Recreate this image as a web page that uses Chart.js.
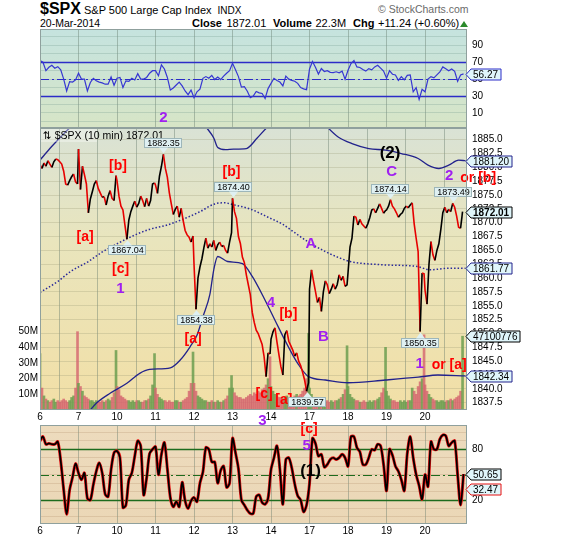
<!DOCTYPE html>
<html>
<head>
<meta charset="utf-8">
<title>$SPX 10 min</title>
<script src="https://cdn.jsdelivr.net/npm/chart.js@4.4.1/dist/chart.umd.min.js"></script>
<style>
  html, body { margin: 0; padding: 0; background: #fff; }
  body { width: 570px; height: 540px; position: relative; overflow: hidden;
         font-family: "Liberation Sans", Arial, sans-serif; color: #000; }
  .t { position: absolute; white-space: nowrap; line-height: 1; }
  canvas { position: absolute; left: 0; }
</style>
</head>
<body>
<div class="t" style="left:40px;top:1px;"><span style="font-size:16px;font-weight:bold;">$SPX</span><span style="font-size:11px;"> S&amp;P 500 Large Cap Index</span><span style="font-size:10px;margin-left:6px;">INDX</span></div>
<div class="t" style="left:378px;top:4px;font-size:10.5px;color:#6a6a6a;">&copy; StockCharts.com</div>
<div class="t" style="left:40px;top:18px;font-size:10.5px;">20-Mar-2014</div>
<div class="t" style="left:192px;top:18px;font-size:11px;font-weight:bold;">Close</div>
<div class="t" id="hdrClose" style="left:226.5px;top:18px;font-size:11px;"></div>
<div class="t" style="left:273px;top:18px;font-size:11px;font-weight:bold;">Volume</div>
<div class="t" style="left:315.5px;top:18px;font-size:11px;">22.3M</div>
<div class="t" style="left:353px;top:18px;font-size:11px;font-weight:bold;">Chg</div>
<div class="t" id="hdrChg" style="left:378px;top:18px;font-size:11px;"></div>
<div style="position:absolute;left:460px;top:21px;width:0;height:0;border-left:4px solid transparent;border-right:4px solid transparent;border-bottom:6px solid #2b8a2b;"></div>

<canvas id="rsiPanel" width="570" height="99" style="top:29px;"></canvas>
<canvas id="pricePanel" width="570" height="282" style="top:128px;"></canvas>
<canvas id="stochPanel" width="570" height="130" style="top:410px;"></canvas>

<script>
// ---------- session labels ----------
const dayLabels = ['6', '7', '10', '11', '12', '13', '14', '17', '18', '19', '20'];
const BARS_PER_DAY = 39;   // 10-minute bars per session
const CLOSE_STEP = 2;      // closes / volumes listed every 2nd bar
const IND_STEP = 3;        // indicator values listed every 3rd bar

// ---------- closes (every 2nd 10-min bar) ----------
const closeMar06 = [1880.5, 1879.8, 1880.8, 1880.2, 1881.2, 1880.6, 1880.0, 1881.0, 1881.5, 1881.4, 1881.0, 1880.6, 1879.3, 1877.0, 1876.8, 1877.6, 1878.3, 1878.8, 1877.4, 1877.0];
const closeMar07 = [1883.3, 1876.0, 1880.2, 1878.7, 1877.0, 1871.8, 1874.3, 1875.6, 1877.0, 1877.6, 1876.2, 1875.4, 1874.6, 1874.7, 1873.2, 1874.8, 1875.8, 1874.4, 1874.0, 1878.5];
const closeMar10 = [1877.6, 1874.8, 1873.0, 1872.3, 1869.6, 1867.04, 1870.5, 1872.0, 1873.0, 1873.9, 1872.8, 1873.5, 1874.8, 1874.0, 1872.9, 1874.4, 1873.0, 1874.0, 1877.0, 1877.2];
const closeMar11 = [1876.8, 1875.3, 1878.4, 1880.2, 1882.35, 1879.8, 1878.2, 1875.4, 1873.4, 1871.5, 1872.4, 1873.0, 1871.0, 1872.6, 1870.4, 1868.6, 1867.8, 1867.4, 1866.5, 1867.6];
const closeMar12 = [1862.5, 1854.38, 1860.0, 1862.0, 1863.5, 1865.5, 1867.2, 1865.4, 1866.2, 1865.6, 1866.8, 1865.0, 1866.0, 1866.5, 1865.7, 1865.9, 1865.0, 1864.5, 1866.5, 1868.2];
const closeMar13 = [1874.40, 1872.0, 1870.8, 1867.5, 1866.2, 1863.8, 1862.8, 1860.6, 1858.8, 1857.0, 1853.8, 1852.0, 1850.6, 1850.0, 1849.0, 1848.0, 1845.8, 1842.2, 1846.5, 1846.3];
const closeMar14 = [1849.0, 1850.3, 1851.0, 1848.5, 1846.2, 1844.0, 1842.5, 1849.8, 1850.5, 1848.6, 1847.8, 1847.0, 1845.9, 1846.5, 1845.0, 1844.2, 1843.0, 1841.6, 1839.57, 1841.1];
const closeMar17 = [1858.0, 1861.5, 1859.5, 1857.6, 1855.6, 1856.5, 1854.0, 1857.5, 1859.5, 1858.8, 1857.2, 1858.0, 1859.0, 1858.0, 1858.8, 1860.6, 1859.6, 1860.3, 1858.5, 1858.8];
const closeMar18 = [1861.0, 1865.6, 1867.2, 1871.2, 1871.0, 1869.6, 1870.6, 1869.8, 1869.4, 1869.0, 1869.8, 1870.9, 1872.3, 1872.5, 1871.8, 1872.6, 1873.4, 1872.6, 1871.7, 1872.2];
const closeMar19 = [1872.3, 1873.0, 1874.14, 1873.0, 1872.5, 1871.8, 1871.0, 1871.5, 1871.8, 1872.6, 1873.0, 1872.7, 1873.2, 1873.6, 1869.8, 1867.2, 1864.8, 1850.35, 1860.9, 1860.77];
const closeMar20 = [1857.8, 1855.3, 1862.5, 1866.6, 1864.2, 1863.2, 1865.0, 1866.2, 1868.8, 1871.8, 1872.8, 1871.8, 1872.4, 1872.0, 1873.49, 1872.8, 1871.2, 1869.2, 1869.0, 1872.01];

// ---------- volume, millions (every 2nd 10-min bar) ----------
const volMar06 = [36, 14, 9, 7, 6, 5, 6, 7, 5, 6, 5, 6, 7, 6, 5, 6, 8, 9, 14, 50];
const volMar07 = [17, 15, 12, 9, 8, 7, 6, 6, 5, 6, 5, 5, 6, 5, 6, 7, 6, 8, 11, 38];
const volMar10 = [15, 13, 9, 8, 7, 6, 6, 5, 6, 5, 6, 6, 5, 5, 6, 6, 7, 9, 16, 36];
const volMar11 = [14, 10, 8, 7, 6, 6, 5, 6, 5, 5, 6, 6, 5, 5, 6, 7, 8, 12, 17, 37];
const volMar12 = [17, 12, 9, 8, 7, 6, 6, 5, 5, 6, 5, 5, 6, 5, 5, 6, 7, 9, 14, 22];
const volMar13 = [14, 11, 9, 8, 8, 7, 7, 8, 9, 10, 9, 11, 10, 12, 11, 13, 14, 16, 20, 34];
const volMar14 = [15, 12, 10, 9, 8, 8, 7, 8, 9, 8, 7, 8, 9, 10, 9, 10, 12, 14, 20, 49];
const volMar17 = [14, 10, 8, 7, 6, 6, 5, 6, 5, 6, 5, 6, 5, 6, 6, 7, 8, 10, 13, 41];
const volMar18 = [15, 10, 8, 7, 6, 6, 5, 5, 6, 5, 5, 6, 5, 6, 6, 7, 8, 11, 14, 40];
const volMar19 = [12, 9, 7, 6, 6, 5, 5, 6, 5, 6, 5, 6, 6, 14, 12, 10, 15, 18, 20, 48];
const volMar20 = [16, 12, 10, 8, 7, 6, 6, 5, 6, 6, 5, 6, 6, 7, 6, 7, 8, 9, 12, 47.100776];

// ---------- overlay averages (bar number, value) ----------
const avgUpperBars = [0, 10, 20, 30, 60, 110, 155, 169, 176, 180, 188, 196, 209, 220, 230, 252, 278, 292, 302, 316, 333, 350, 366, 383, 393, 404, 414, 424, 431];
const avgUpperVals = [1881.3, 1883.4, 1885.3, 1887.1, 1890.5, 1892.0, 1890.0, 1887.1, 1885.3, 1883.6, 1883.2, 1883.3, 1883.4, 1885.3, 1887.2, 1890.0, 1890.0, 1887.1, 1885.5, 1884.3, 1883.4, 1883.1, 1882.5, 1881.6, 1880.4, 1879.8, 1880.4, 1881.3, 1881.20];
const avgDottedBars = [0, 18, 31, 49, 62, 76, 89, 109, 129, 147, 162, 177, 187, 195, 214, 231, 246, 258, 272, 289, 304, 314, 348, 382, 395, 415, 431];
const avgDottedVals = [1857.4, 1859.4, 1861.2, 1863.0, 1864.6, 1866.0, 1867.2, 1868.7, 1869.6, 1870.8, 1872.0, 1873.4, 1873.6, 1873.3, 1872.4, 1871.0, 1869.7, 1868.2, 1866.5, 1864.8, 1863.6, 1863.0, 1862.4, 1862.1, 1861.5, 1861.8, 1861.77];
const avgLowerBars = [35, 51, 57, 71, 88, 101, 111, 132, 142, 152, 159, 165, 172, 176, 180, 190, 205, 215, 228, 238, 248, 261, 272, 289, 312, 350, 383, 403, 431];
const avgLowerVals = [1833.0, 1836.2, 1837.4, 1839.2, 1841.0, 1842.8, 1843.5, 1843.8, 1845.2, 1847.6, 1849.7, 1853.0, 1857.0, 1861.5, 1863.9, 1863.0, 1862.6, 1860.3, 1856.0, 1852.4, 1848.8, 1844.6, 1842.2, 1841.6, 1841.1, 1841.6, 1842.1, 1842.5, 1842.34];

// ---------- RSI (every 3rd bar) ----------
const rsiValues = [72, 70, 60, 64, 66.5, 63, 64.8, 61, 50, 36,
  47, 46.5, 49, 57, 50, 50, 36, 46, 51, 48,
  46.5, 45.5, 44, 44, 52.5, 42.7, 51, 52, 40, 48,
  47.3, 51, 49, 56.5, 50, 50, 52, 57, 60, 60,
  54, 67, 62, 52, 37, 39.5, 43, 46.5, 42, 36,
  31.6, 37, 28, 35, 38, 51, 53, 51, 54.5, 49.5,
  52.5, 49.5, 53.5, 57, 60, 68.8, 61, 53, 40.5, 41,
  35.7, 28, 30, 35.3, 33.8, 33, 27, 38.8, 45, 51,
  48.5, 46.5, 42, 53.5, 50, 48.5, 47.5, 45, 40, 38.5,
  37.5, 62, 71, 64, 56, 62.5, 59, 60, 58, 57.7,
  58.7, 57.5, 59.5, 50, 60.5, 68.5, 72, 64.5, 63.8, 61.5,
  59.5, 62.5, 61, 64.5, 66.5, 63, 59.5, 51.2, 60, 55.8,
  55, 48.5, 53, 49.2, 54.5, 55, 35, 40, 26, 38,
  35, 50, 53, 51.5, 55, 58.5, 64.5, 62.3, 60, 62,
  59.3, 47.5, 55, 56.27];

// ---------- slow stochastic %K (every 3rd bar) ----------
const stochValues = [90, 95, 86, 87, 86, 86, 89, 66, 32, 3,
  32, 47, 63, 52, 44, 52, 22, 20, 38, 54,
  64, 52, 27, 24, 56, 76, 78, 70, 11, 14,
  44, 52, 72, 90, 84, 26, 46, 75, 80, 83,
  50, 74, 88, 57, 23, 12, 18, 12, 41, 19,
  10, 19, 23, 18, 40, 53, 82, 80, 65, 65,
  40, 55, 60, 35, 40, 93, 76, 57, 20, 14,
  8, 4, 4, 24, 26, 17, 15, 22, 56, 70,
  84, 56, 15, 68, 70, 58, 39, 25, 20, 6,
  14, 40, 93, 87, 72, 74, 59, 62, 68, 70,
  68, 70, 74, 70, 60, 95, 95, 82, 77, 62,
  62, 70, 80, 79, 86, 84, 62, 31, 80, 73,
  60, 54, 44, 31, 75, 95, 70, 50, 37, 21,
  50, 36, 89, 80, 80, 92, 97, 96, 84, 88,
  90, 50, 14, 50.65];
const stochSignalLast = 32.47;

// ---------- wave count labels ----------
const priceWaveLabels = [
  { bar: 79, value: 1880.2, text: '[b]', kind: 'minor' },
  { bar: 45.6, value: 1867.4, text: '[a]', kind: 'minor' },
  { bar: 81.6, value: 1861.6, text: '[c]', kind: 'minor' },
  { bar: 81.4, value: 1858.0, text: '1', kind: 'wave' },
  { bar: 194, value: 1879.2, text: '[b]', kind: 'minor' },
  { bar: 155, value: 1848.9, text: '[a]', kind: 'minor' },
  { bar: 233.8, value: 1855.5, text: '4', kind: 'wave' },
  { bar: 251.6, value: 1853.5, text: '[b]', kind: 'minor' },
  { bar: 227, value: 1839.0, text: '[c]', kind: 'minor' },
  { bar: 247, value: 1838.0, text: '[a]', kind: 'minor' },
  { bar: 274.4, value: 1866.2, text: 'A', kind: 'wave' },
  { bar: 287, value: 1849.3, text: 'B', kind: 'wave' },
  { bar: 356.3, value: 1879.1, text: 'C', kind: 'wave' },
  { bar: 354.6, value: 1882.6, text: '(2)', kind: 'major' },
  { bar: 414.4, value: 1878.4, text: '2', kind: 'wave' },
  { bar: 443.8, value: 1878.1, text: 'or [b]', kind: 'minor' },
  { bar: 384.5, value: 1844.5, text: '1', kind: 'wave' },
  { bar: 414.4, value: 1844.3, text: 'or [a]', kind: 'minor' }
];
const rsiWaveLabels = [{ bar: 125, value: 3.7, text: '2', kind: 'wave' }];
const stochWaveLabels = [
  { bar: 225.4, value: 113.6, text: '3', kind: 'wave' },
  { bar: 272.5, value: 104.1, text: '[c]', kind: 'minor' },
  { bar: 270.2, value: 83.6, text: '5', kind: 'wave' },
  { bar: 274, value: 53.6, text: '(1)', kind: 'major' }
];

// session extremes flagged on the price panel: session index, sample index
const priceFlags = [
  { day: 3, k: 4, side: 'high' },
  { day: 5, k: 0, side: 'high' },
  { day: 2, k: 5, side: 'low' },
  { day: 4, k: 1, side: 'low' },
  { day: 6, k: 18, side: 'low' },
  { day: 9, k: 2, side: 'high' },
  { day: 10, k: 14, side: 'high' },
  { day: 9, k: 17, side: 'low' }
];

// ---------- assemble series ----------
const dailyCloses = [closeMar06, closeMar07, closeMar10, closeMar11, closeMar12, closeMar13, closeMar14, closeMar17, closeMar18, closeMar19, closeMar20];
const dailyVolumes = [volMar06, volMar07, volMar10, volMar11, volMar12, volMar13, volMar14, volMar17, volMar18, volMar19, volMar20];
const barOf = (d, k) => d * BARS_PER_DAY + k * CLOSE_STEP;
const dayStarts = dayLabels.map((_, d) => d * BARS_PER_DAY);
const X_MAX = 432.5;

const pricePoints = [];
dailyCloses.forEach((arr, d) => arr.forEach((v, k) => pricePoints.push({ x: barOf(d, k), y: v })));

const UP_VOL = 'rgba(108,158,80,0.85)';
const DOWN_VOL = 'rgba(212,100,110,0.8)';
const volPoints = [];
const volColors = [];
dailyVolumes.forEach((arr, d) => arr.forEach((v, k) => {
  const i = volPoints.length;
  volPoints.push({ x: barOf(d, k), y: v });
  const up = i === 0 || pricePoints[i].y >= pricePoints[i - 1].y;
  volColors.push(up ? UP_VOL : DOWN_VOL);
}));

const pairUp = (bars, vals) => bars.map((b, i) => ({ x: b, y: vals[i] }));
const rsiPoints = rsiValues.map((v, j) => ({ x: j * IND_STEP, y: v }));
const stochPoints = stochValues.map((v, j) => ({ x: j * IND_STEP, y: v }));

const lastClose = pricePoints[pricePoints.length - 1].y;
const prevClose = closeMar19[closeMar19.length - 1];
const chg = lastClose - prevClose;
document.getElementById('hdrClose').textContent = lastClose.toFixed(2);
document.getElementById('hdrChg').textContent =
  (chg >= 0 ? '+' : '') + chg.toFixed(2) + ' (' + (chg >= 0 ? '+' : '') + (chg / prevClose * 100).toFixed(2) + '%)';

// ---------- shared helpers ----------
const FONT = '"Liberation Sans", Arial, "DejaVu Sans", sans-serif';
const TICK_FONT = { family: FONT, size: 10 };
const fitRight = ax => { ax.width = 103; ax.paddingTop = 0; ax.paddingBottom = 0; };
const fitLeft = ax => { ax.width = 40; ax.paddingTop = 0; ax.paddingBottom = 0; };

function hiddenX() {
  return {
    type: 'linear', min: 0, max: X_MAX, offset: false,
    afterBuildTicks: ax => { ax.ticks = dayStarts.map(v => ({ value: v })); },
    ticks: { display: false },
    grid: { color: 'rgba(100,122,108,0.42)', lineWidth: 1, drawTicks: false },
    border: { display: false },
    afterFit: ax => { ax.height = 0; ax.paddingLeft = 0; ax.paddingRight = 0; }
  };
}

function hLine(chart, scaleId, value, color, width, dash) {
  const { ctx, chartArea: a } = chart;
  const y = Math.round(chart.scales[scaleId].getPixelForValue(value)) + 0.5;
  ctx.save();
  ctx.strokeStyle = color; ctx.lineWidth = width; ctx.setLineDash(dash || []);
  ctx.beginPath(); ctx.moveTo(a.left, y); ctx.lineTo(a.right, y); ctx.stroke();
  ctx.restore();
}

const LABEL_STYLE = {
  wave: ['bold 15px ' + FONT, '#a020f0'],
  minor: ['bold 14px ' + FONT, '#ff0000'],
  major: ['bold 17px ' + FONT, '#000000']
};
function drawWaveLabels(chart, list, yId) {
  const ctx = chart.ctx, xs = chart.scales.x, ys = chart.scales[yId];
  ctx.save();
  ctx.textAlign = 'center'; ctx.textBaseline = 'middle';
  list.forEach(l => {
    const [f, c] = LABEL_STYLE[l.kind];
    ctx.font = f; ctx.fillStyle = c;
    ctx.fillText(l.text, xs.getPixelForValue(l.bar), ys.getPixelForValue(l.value));
  });
  ctx.restore();
}

function drawFlag(chart, bar, value, side) {
  const ctx = chart.ctx;
  const x = Math.round(chart.scales.x.getPixelForValue(bar));
  const y = chart.scales.y.getPixelForValue(value);
  const text = value.toFixed(2);
  ctx.save();
  ctx.font = '9px ' + FONT;
  const w = Math.round(ctx.measureText(text).width) + 5, h = 10, gap = 6;
  const top = Math.round(side === 'high' ? y - gap - h : y + gap);
  const left = x - Math.round(w / 2);
  ctx.fillStyle = '#dff0f2'; ctx.strokeStyle = '#9db6ba'; ctx.lineWidth = 1;
  ctx.fillRect(left, top, w, h);
  ctx.strokeRect(left + 0.5, top + 0.5, w - 1, h - 1);
  ctx.beginPath();
  if (side === 'high') { ctx.moveTo(x - 4, top + h - 0.5); ctx.lineTo(x + 0.5, y - 1); ctx.lineTo(x + 5, top + h - 0.5); }
  else { ctx.moveTo(x - 4, top + 0.5); ctx.lineTo(x + 0.5, y + 1); ctx.lineTo(x + 5, top + 0.5); }
  ctx.closePath(); ctx.fill();
  ctx.fillStyle = '#000'; ctx.textAlign = 'center'; ctx.textBaseline = 'middle';
  ctx.fillText(text, x + 0.5, top + h / 2 + 0.5);
  ctx.restore();
}

function drawTag(chart, y, text, border, bold) {
  const ctx = chart.ctx, a = chart.chartArea;
  const x0 = a.right - 1;
  y = Math.round(y) + 0.5;
  ctx.save();
  ctx.font = (bold ? 'bold ' : '') + '10px ' + FONT;
  const w = Math.round(ctx.measureText(text).width) + 5, h = 11;
  ctx.beginPath();
  ctx.moveTo(x0, y); ctx.lineTo(x0 + 5, y - h / 2); ctx.lineTo(x0 + 5 + w, y - h / 2);
  ctx.lineTo(x0 + 5 + w, y + h / 2); ctx.lineTo(x0 + 5, y + h / 2); ctx.closePath();
  ctx.fillStyle = '#e0f6fb'; ctx.fill();
  ctx.strokeStyle = border; ctx.lineWidth = 1; ctx.stroke();
  ctx.fillStyle = '#000'; ctx.textAlign = 'left'; ctx.textBaseline = 'middle';
  ctx.fillText(text, x0 + 7, y + 0.5);
  ctx.restore();
}

function panel(id, stops, hooks) {
  return {
    id,
    beforeDraw(chart) {
      const { ctx, chartArea: a } = chart;
      const g = ctx.createLinearGradient(0, a.top, 0, a.bottom);
      stops.forEach(([o, c]) => g.addColorStop(o, c));
      ctx.save(); ctx.fillStyle = g;
      ctx.fillRect(a.left, a.top, a.right - a.left, a.bottom - a.top);
      ctx.restore();
    },
    beforeDatasetsDraw(chart) { if (hooks.under) hooks.under(chart); },
    afterDatasetsDraw(chart) { if (hooks.over) hooks.over(chart); },
    afterDraw(chart) {
      const { ctx, chartArea: a } = chart;
      ctx.save(); ctx.strokeStyle = '#8fa09d'; ctx.lineWidth = 1;
      ctx.strokeRect(a.left + 0.5, a.top + 0.5, a.right - a.left - 1, a.bottom - a.top - 1);
      ctx.restore();
      if (hooks.tags) hooks.tags(chart);
    }
  };
}

const baseOptions = {
  animation: false, responsive: false, devicePixelRatio: 1, events: [],
  plugins: { legend: { display: false }, tooltip: { enabled: false } },
  elements: { point: { radius: 0 } }
};

// ---------- RSI panel ----------
new Chart(document.getElementById('rsiPanel'), {
  type: 'line',
  data: { datasets: [{ data: rsiPoints, borderColor: '#3636d2', borderWidth: 1.2, tension: 0 }] },
  options: Object.assign({}, baseOptions, {
    layout: { padding: { left: 40, right: 0, top: 0, bottom: 0 } },
    scales: {
      x: hiddenX(),
      y: {
        position: 'right', min: -7.9, max: 109.4,
        afterBuildTicks: ax => { ax.ticks = [0, 10, 20, 30, 40, 50, 60, 70, 80, 90, 100].map(v => ({ value: v })); },
        ticks: { callback: v => (v % 20 === 10 ? String(v) : ''), font: TICK_FONT, color: '#000', padding: 5, autoSkip: false },
        grid: { color: 'rgba(110,150,140,0.28)', drawTicks: false },
        border: { display: false },
        afterFit: fitRight
      }
    }
  }),
  plugins: [panel('rsiBg', [[0, '#c5e3df'], [1, '#d7e5c6']], {
    under(chart) {
      hLine(chart, 'y', 70, '#2c2cc8', 1.5);
      hLine(chart, 'y', 30, '#2c2cc8', 1.5);
      hLine(chart, 'y', 50, '#2c2cc8', 1.2, [9, 3, 2, 3]);
    },
    over(chart) { drawWaveLabels(chart, rsiWaveLabels, 'y'); },
    tags(chart) {
      const v = rsiValues[rsiValues.length - 1];
      drawTag(chart, chart.scales.y.getPixelForValue(v), v.toFixed(2), '#2c2cc8', false);
    }
  })]
});

// ---------- price + volume panel ----------
const priceTicks = [];
for (let v = 1837.5; v <= 1885; v += 2.5) priceTicks.push(v);

new Chart(document.getElementById('pricePanel'), {
  type: 'line',
  data: {
    datasets: [
      { type: 'bar', data: volPoints, yAxisID: 'vol', backgroundColor: volColors, borderWidth: 0, barThickness: 2, order: 4 },
      { data: pairUp(avgUpperBars, avgUpperVals), borderColor: '#22228c', borderWidth: 1.3, cubicInterpolationMode: 'monotone', order: 3 },
      { data: pairUp(avgDottedBars, avgDottedVals), borderColor: '#2a2a9a', borderWidth: 1.5, borderDash: [1.5, 2], cubicInterpolationMode: 'monotone', order: 3 },
      { data: pairUp(avgLowerBars, avgLowerVals), borderColor: '#22228c', borderWidth: 1.3, cubicInterpolationMode: 'monotone', order: 2 },
      {
        data: pricePoints, borderColor: '#000', borderWidth: 1.6, tension: 0, order: 1,
        segment: { borderColor: c => (c.p1.parsed.y < c.p0.parsed.y ? '#e60000' : '#000000') }
      }
    ]
  },
  options: Object.assign({}, baseOptions, {
    layout: { padding: 0 },
    scales: {
      x: hiddenX(),
      y: {
        position: 'right', min: 1836.18, max: 1887.11,
        afterBuildTicks: ax => { ax.ticks = priceTicks.map(v => ({ value: v })); },
        ticks: { callback: v => v.toFixed(1), font: TICK_FONT, color: '#000', padding: 5, autoSkip: false },
        grid: { color: 'rgba(150,150,115,0.28)', drawTicks: false },
        border: { display: false },
        afterFit: fitRight
      },
      vol: {
        position: 'left', min: 0, max: 180,
        afterBuildTicks: ax => { ax.ticks = [10, 20, 30, 40, 50].map(v => ({ value: v })); },
        ticks: { callback: v => v + 'M', font: TICK_FONT, color: '#000', padding: 2, autoSkip: false },
        grid: { display: false, drawTicks: false },
        border: { display: false },
        afterFit: fitLeft
      }
    }
  }),
  plugins: [panel('priceBg', [[0, '#d9e2d5'], [0.4, '#e9e5bd'], [1, '#f2dfa6']], {
    over(chart) {
      const { ctx, chartArea: a } = chart;
      ctx.save();
      ctx.fillStyle = 'rgba(255,255,255,0.35)';
      ctx.fillRect(a.left + 1, a.top + 1, 56, 13);
      ctx.font = '10.5px ' + FONT; ctx.fillStyle = '#000';
      ctx.textAlign = 'left'; ctx.textBaseline = 'middle';
      ctx.fillText('\u21C5 $SPX (10 min) ' + lastClose.toFixed(2), a.left + 3, a.top + 8);
      ctx.restore();
      drawWaveLabels(chart, priceWaveLabels, 'y');
      priceFlags.forEach(f => drawFlag(chart, barOf(f.day, f.k), dailyCloses[f.day][f.k], f.side));
    },
    tags(chart) {
      const y = chart.scales.y, vol = chart.scales.vol;
      const up = avgUpperVals[avgUpperVals.length - 1];
      const dot = avgDottedVals[avgDottedVals.length - 1];
      const low = avgLowerVals[avgLowerVals.length - 1];
      const lastVol = volMar20[volMar20.length - 1];
      drawTag(chart, y.getPixelForValue(up), up.toFixed(2), '#22228c', false);
      drawTag(chart, y.getPixelForValue(lastClose), lastClose.toFixed(2), '#000', true);
      drawTag(chart, y.getPixelForValue(dot), dot.toFixed(2), '#22228c', false);
      drawTag(chart, vol.getPixelForValue(lastVol), String(Math.round(lastVol * 1e6)), '#000', false);
      drawTag(chart, y.getPixelForValue(low), low.toFixed(2), '#22228c', false);
    }
  })]
});

// ---------- stochastic panel ----------
function dayAxis(position, height, padding, showGrid) {
  return {
    type: 'linear', position, min: 0, max: X_MAX, offset: false,
    afterBuildTicks: ax => { ax.ticks = dayStarts.map(v => ({ value: v })); },
    ticks: {
      callback: v => dayLabels[dayStarts.indexOf(v)],
      font: TICK_FONT, color: '#000', padding, maxRotation: 0, autoSkip: false
    },
    grid: showGrid ? { color: 'rgba(100,122,108,0.42)', drawTicks: false } : { display: false, drawTicks: false },
    border: { display: false },
    afterFit: ax => { ax.height = height; ax.paddingLeft = 0; ax.paddingRight = 0; }
  };
}

new Chart(document.getElementById('stochPanel'), {
  type: 'line',
  data: {
    datasets: [
      { data: stochPoints, borderColor: '#e81010', borderWidth: 3, tension: 0.3, order: 2 },
      { data: stochPoints, borderColor: '#000', borderWidth: 1.7, tension: 0.3, order: 1 }
    ]
  },
  options: Object.assign({}, baseOptions, {
    layout: { padding: { left: 40, right: 0, top: 0, bottom: 0 } },
    scales: {
      x: dayAxis('bottom', 16, 1, true),
      xTop: dayAxis('top', 15, 2, false),
      y: {
        position: 'right', min: -8.4, max: 108.76,
        afterBuildTicks: ax => { ax.ticks = [0, 10, 20, 30, 40, 50, 60, 70, 80, 90, 100].map(v => ({ value: v })); },
        ticks: { callback: v => (v === 20 || v === 80 ? String(v) : ''), font: TICK_FONT, color: '#000', padding: 5, autoSkip: false },
        grid: { color: 'rgba(170,135,100,0.25)', drawTicks: false },
        border: { display: false },
        afterFit: fitRight
      }
    }
  }),
  plugins: [panel('stochBg', [[0, '#eddbbd'], [1, '#ebd7b6']], {
    under(chart) {
      hLine(chart, 'y', 80, '#1d6b1d', 1.3);
      hLine(chart, 'y', 20, '#1d6b1d', 1.3);
      hLine(chart, 'y', 50, '#1d6b1d', 1.1, [9, 3, 2, 3]);
    },
    over(chart) { drawWaveLabels(chart, stochWaveLabels, 'y'); },
    tags(chart) {
      const v = stochValues[stochValues.length - 1];
      drawTag(chart, chart.scales.y.getPixelForValue(v), v.toFixed(2), '#000', false);
      drawTag(chart, chart.scales.y.getPixelForValue(stochSignalLast), stochSignalLast.toFixed(2), '#e81010', false);
    }
  })]
});
</script>
</body>
</html>
